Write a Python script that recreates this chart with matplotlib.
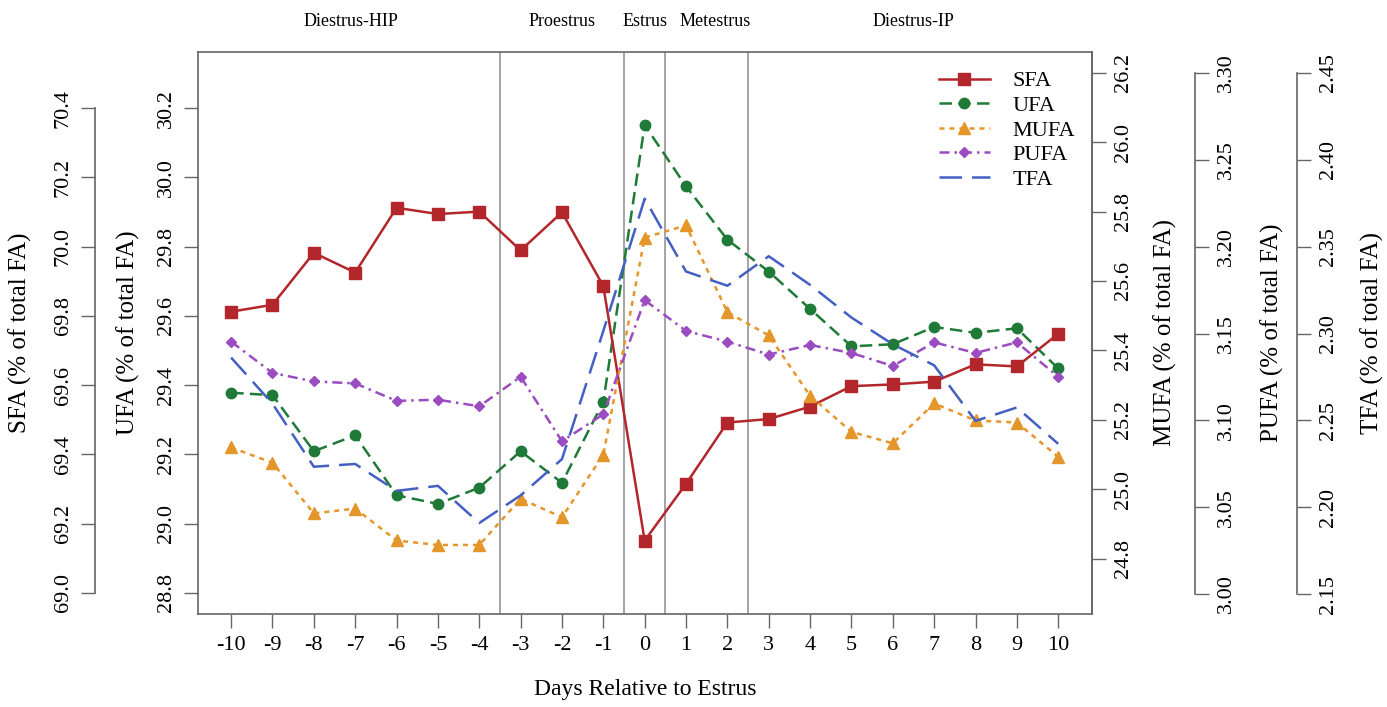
import matplotlib
matplotlib.use("Agg")
import matplotlib.pyplot as plt
import matplotlib.transforms as mtransforms

plt.rcParams["font.family"] = ["Liberation Serif", "DejaVu Serif"]

# --- data ---
days = list(range(-10, 11))
sfa = [69.812, 69.832, 69.982, 69.925, 70.112, 70.094, 70.101, 69.989, 70.099, 69.886,
       69.151, 69.315, 69.492, 69.502, 69.538, 69.597, 69.602, 69.610, 69.660, 69.654, 69.748]
ufa = [29.378, 29.371, 29.209, 29.255, 29.082, 29.057, 29.104, 29.209, 29.118, 29.352,
       30.151, 29.974, 29.820, 29.728, 29.620, 29.512, 29.518, 29.568, 29.551, 29.564, 29.448]
mufa = [25.120, 25.076, 24.930, 24.944, 24.852, 24.839, 24.839, 24.972, 24.919, 25.099,
        25.725, 25.760, 25.510, 25.443, 25.269, 25.165, 25.132, 25.247, 25.198, 25.192, 25.093]
pufa = [3.1453, 3.1273, 3.1224, 3.1213, 3.1112, 3.1119, 3.1081, 3.1251, 3.0880, 3.1035,
        3.1692, 3.1515, 3.1453, 3.1379, 3.1434, 3.1388, 3.1313, 3.1449, 3.1388, 3.1449, 3.1251]
tfa = [2.2861, 2.2596, 2.2233, 2.2249, 2.2094, 2.2123, 2.1909, 2.2068, 2.2277, 2.3015,
       2.3776, 2.3357, 2.3275, 2.3445, 2.3280, 2.3092, 2.2938, 2.2817, 2.2497, 2.2574, 2.2365]

phase_bounds = [-3.5, -0.5, 0.5, 2.5]
phase_names = ["Diestrus-HIP", "Proestrus", "Estrus", "Metestrus", "Diestrus-IP"]
phase_centers = [-7.1, -2.0, 0.0, 1.7, 6.5]

sfa_ticks = [69.0, 69.2, 69.4, 69.6, 69.8, 70.0, 70.2, 70.4]
ufa_ticks = [28.8, 29.0, 29.2, 29.4, 29.6, 29.8, 30.0, 30.2]
mufa_ticks = [24.8, 25.0, 25.2, 25.4, 25.6, 25.8, 26.0, 26.2]
pufa_ticks = [3.00, 3.05, 3.10, 3.15, 3.20, 3.25, 3.30]
tfa_ticks = [2.15, 2.20, 2.25, 2.30, 2.35, 2.40, 2.45]

RED, GREEN, ORANGE, PURPLE, BLUE = "#b3262b", "#1f7a37", "#e5962a", "#9a4cc0", "#4360c2"
GRAY = "#666666"
TICK_FS, LAB_FS = 16, 18

fig = plt.figure(figsize=(13.87, 7.07), dpi=100)
ax = fig.add_axes([0.1428, 0.1315, 0.6446, 0.795])
ax_s = ax.twinx()
ax_m = ax.twinx()
ax_p = ax.twinx()
ax_t = ax.twinx()

ax.set_xlim(-10.8, 10.82)
ax.set_ylim(28.739, 30.362)
ax_s.set_ylim(68.939, 70.562)
ax_m.set_ylim(24.64, 26.26)
ax_p.set_ylim(2.9885, 3.3121)
ax_t.set_ylim(2.1385, 2.4621)

for b in phase_bounds:
    ax.axvline(b, color="#8c8c8c", lw=1.1, zorder=0)

lw = 1.8
l_s, = ax_s.plot(days, sfa, color=RED, lw=lw, marker="s", ms=8, label="SFA")
l_u, = ax.plot(days, ufa, color=GREEN, lw=lw, dashes=(5, 2.5), marker="o", ms=7.5, label="UFA")
l_m, = ax_m.plot(days, mufa, color=ORANGE, lw=lw, dashes=(2, 2), marker="^", ms=9, label="MUFA")
l_p, = ax_p.plot(days, pufa, color=PURPLE, lw=lw, dashes=(4, 2, 1, 2), marker="D", ms=5.5, label="PUFA")
l_t, = ax_t.plot(days, tfa, color=BLUE, lw=lw, dashes=(9, 4), label="TFA")

# main box + x axis
for sp in ax.spines.values():
    sp.set_color(GRAY)
    sp.set_linewidth(1.2)
ax.set_xticks(days)
ax.set_xticklabels([str(d) for d in days], fontsize=TICK_FS)
ax.tick_params(axis="x", length=10, width=1, color=GRAY, pad=6)
ax.set_xlabel("Days Relative to Estrus", fontsize=LAB_FS - 1)
ax.xaxis.set_label_coords(0.5, -0.135)
ax.xaxis.label.set_va("center")


def style_y(a, ticks, fmt, side, pos, label, lab_x, bounds=None):
    for sp in a.spines.values():
        sp.set_visible(False)
    sp = a.spines[side]
    sp.set_visible(True)
    sp.set_color(GRAY)
    sp.set_linewidth(1.2)
    if pos is not None:
        sp.set_position(("axes", pos))
    if bounds is not None:
        sp.set_bounds(*bounds)
    a.yaxis.set_ticks_position(side)
    a.yaxis.set_label_position(side)
    a.set_yticks(ticks)
    a.set_yticklabels([fmt.format(t) for t in ticks])
    a.tick_params(axis="y", length=10, width=1, color=GRAY, pad=6,
                  labelsize=TICK_FS, labelrotation=90)
    for lab in a.get_yticklabels():
        lab.set_va("center")
    a.set_ylabel(label, fontsize=LAB_FS)
    a.yaxis.set_label_coords(lab_x, 0.5)
    a.yaxis.label.set_va("center")


style_y(ax_s, sfa_ticks, "{:.1f}", "left", -0.1152, "SFA (% of total FA)", -0.199, (69.0, 70.4))
style_y(ax, ufa_ticks, "{:.1f}", "left", None, "UFA (% of total FA)", -0.078)
for sp in ax.spines.values():
    sp.set_visible(True)
style_y(ax_m, mufa_ticks, "{:.1f}", "right", None, "MUFA (% of total FA)", 1.082)
style_y(ax_p, pufa_ticks, "{:.2f}", "right", 1.1152, "PUFA (% of total FA)", 1.201, (3.0, 3.3))
style_y(ax_t, tfa_ticks, "{:.2f}", "right", 1.2293, "TFA (% of total FA)", 1.313, (2.15, 2.45))

# phase labels along the top
trans = mtransforms.blended_transform_factory(ax.transData, fig.transFigure)
for name, xc in zip(phase_names, phase_centers):
    ax.text(xc, 0.97, name, transform=trans, ha="center", va="center", fontsize=13)

ax_t.legend(handles=[l_s, l_u, l_m, l_p, l_t], loc="upper left",
            bbox_to_anchor=(930 / 1387, 1 - 62 / 707), bbox_transform=fig.transFigure,
            frameon=False, fontsize=16, handlelength=2.3, handletextpad=1.0,
            labelspacing=0.18, borderaxespad=0)

fig.savefig("out.png", dpi=100)
